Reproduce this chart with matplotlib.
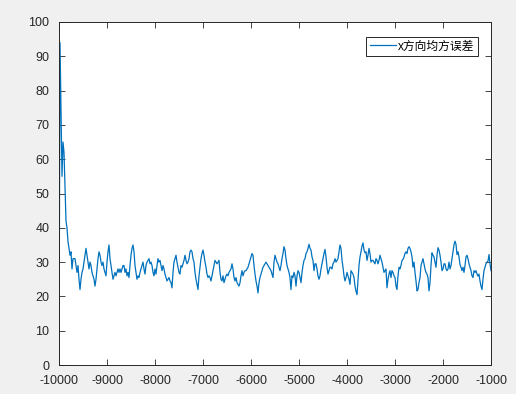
import numpy as np
import matplotlib
matplotlib.use("Agg")
import matplotlib.pyplot as plt

# ---- data (one value per screen column) ----
x_first = -10000
x_last = -1000
mse_x = [
    0, 94, 75, 55, 65, 62, 52, 42, 40, 36, 34, 32, 33, 28, 31, 31, 31, 29, 27, 29,
    25, 22, 25, 27, 28, 30, 32, 34, 32, 30, 28, 30, 29, 27, 26, 25, 23, 25, 28, 31,
    33, 32, 30, 29, 30, 28, 27, 26, 30, 33, 35, 31, 29, 27, 25, 26, 27, 26, 27, 28,
    27, 28, 27, 28, 29, 29, 27, 28, 26, 27, 25.5, 29,
    32, 34, 35, 33, 29, 27, 25, 26, 25.5, 27, 28, 29, 30, 28, 26.5, 29, 30, 30.5, 31, 29.5,
    30, 29, 27, 26, 28, 26.5, 29, 31, 30, 30.5, 29, 27.5, 29, 28, 26.5, 25.5, 24.5, 25,
    25.5, 24.5, 24, 22.5, 27, 30, 31, 32, 30, 28.5, 27, 26.5, 29, 28.5, 29.5, 30.5, 32, 30.5,
    29.5, 30, 31, 33, 33.5, 33, 31, 30, 27, 25, 23.5, 22,
    26, 28.5, 31, 32.5, 33.5, 32, 30, 28.5, 26.5, 25.5, 26, 25.5, 24.5, 26, 27.5, 29, 30.5, 30,
    29.5, 30, 30.5, 27, 25, 24.5, 26, 24, 25, 26, 26.5, 26, 27, 27.5, 28, 29.5, 28, 25.5,
    24.5, 25.5, 24, 23.5, 23, 24, 26, 27.5, 26, 27, 27.5, 27.5, 28, 28.5, 29.5, 30.5, 31.5, 32.5,
    32, 29, 26.5, 24.5, 23, 21, 24, 25.5, 26.5, 27.5, 28.5, 29, 29.5, 30, 29.5, 29,
    28.5, 28, 27.5, 26.5, 25.5, 30, 32, 31, 30, 29.5, 28.5, 27.5, 29, 31, 32.5, 34.5, 33.5, 31,
    29, 28, 27, 25.5, 22, 26, 25.5, 27, 26, 23, 26, 27.5, 27, 25.5, 24, 27, 29, 30.5,
    31, 32.5, 33, 34, 35.2, 34, 33.5, 31.5, 30.5, 27.5, 29.5, 29.5, 28, 26, 25, 26, 28, 29.5,
    31, 32.5, 33.7, 31.5, 28.5, 26.5, 27.5, 28.5, 28.5, 28, 29.5, 30, 31, 30, 30.5, 31,
    33, 35, 34, 30.5, 28.5, 26, 24.5, 25.5, 27, 26, 25, 23.5, 27.5, 27, 26.5, 25.5, 23, 21.5,
    20.5, 25, 29, 31.5, 33, 34.7, 35.6, 33.5, 32.7, 33, 30.5, 32, 34, 32.5, 30, 30.5, 30.5, 30,
    29.5, 31, 30.5, 29.5, 30.5, 32, 31, 30, 28.5, 27, 27.5, 28, 22.5, 25, 26.5, 27.5, 25.5, 27.5,
    27, 26, 25.5, 23, 22, 26, 28.5, 28, 29, 30.5, 30.8, 31.5, 32.5, 33, 32.5, 34,
    34.5, 34, 33, 31.5, 28.5, 30, 27, 24.5, 21.6, 22, 24, 25.5, 29, 30, 31, 29.5, 28, 27,
    26.5, 25.5, 21.6, 24, 29, 32.7, 32, 31.5, 30, 28.5, 32, 34.2, 33.5, 32, 30, 27.5, 28, 29.5,
    29.5, 28, 27.5, 28, 30, 28, 29, 31, 33, 35, 36.1, 35.2, 32.2, 33, 31.5, 29.3, 28.5, 27.5,
    28.5, 27, 29, 31.5, 32, 31, 29.5, 28.5, 27.5, 26, 25.5, 27.5, 27, 27.5, 26.5, 25.9, 26.5, 24.5,
    23, 22, 25, 27.5, 28.5, 29.5, 30, 30.3, 32.2, 29.5, 27.5,
]
x_ticks = [-10000, -9000, -8000, -7000, -6000, -5000, -4000, -3000, -2000, -1000]
y_ticks = [0, 10, 20, 30, 40, 50, 60, 70, 80, 90, 100]
legend_label = "x方向均方误差"

# ---- figure ----
W, H = 516, 394
fig = plt.figure(figsize=(W / 100, H / 100), dpi=100, facecolor="#f0f0f0")
ax = fig.add_axes([59 / W, (H - 365) / H, 432 / W, 343 / H])
ax.set_facecolor("white")

xs = np.linspace(x_first, x_last, len(mse_x))
ax.plot(xs, mse_x, color="#0072BD", lw=0.9, label=legend_label)

ax.set_xlim(x_first, x_last)
ax.set_ylim(0, 100)
ax.set_xticks(x_ticks)
ax.set_yticks(y_ticks)
ax.set_xticklabels([str(v) for v in x_ticks])
ax.set_yticklabels([str(v) for v in y_ticks])

tick_font = ["Liberation Sans", "DejaVu Sans"]
ax.tick_params(direction="in", length=4, width=0.6, colors="#262626",
               top=True, right=True, labelsize=9)
ax.tick_params(axis="x", pad=7)
ax.tick_params(axis="y", pad=7)
for lab in ax.get_xticklabels() + ax.get_yticklabels():
    lab.set_family(tick_font)
for s in ax.spines.values():
    s.set_color("#262626")
    s.set_linewidth(0.7)

leg = ax.legend(loc="upper right", bbox_to_anchor=((478 - 59) / 432, (365 - 37) / 343),
                borderaxespad=0, frameon=True,
                fancybox=False, framealpha=1, edgecolor="#262626",
                handlelength=2.2, handletextpad=0.2, borderpad=0.3,
                prop={"family": ["Liberation Sans", "Noto Sans CJK SC"], "size": 8.5})
leg.get_frame().set_linewidth(0.7)

fig.savefig("out.png", dpi=100, facecolor=fig.get_facecolor())
